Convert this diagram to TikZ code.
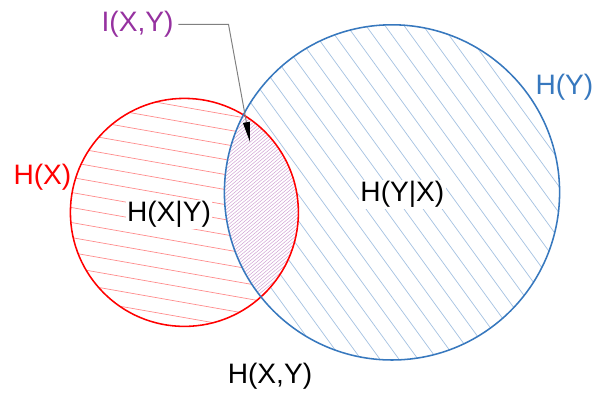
\documentclass[tikz,border=0pt]{standalone}
\usepackage{fontspec}
\setmainfont{Liberation Sans}
\usetikzlibrary{arrows.meta}
\definecolor{hxred}{RGB}{255,0,0}
\definecolor{hyblue}{RGB}{55,120,190}
\definecolor{ixyviolet}{RGB}{150,50,160}

\begin{document}
\begin{tikzpicture}[
  lbl/.style={font=\fontsize{20}{22}\selectfont, anchor=base},
  hatch/.style={line width=0.5pt}]
  \useasboundingbox (0,0) rectangle (14.825,9.85);
  \def\rx{2.85}
  \def\ry{4.19}
  \coordinate (cx) at (4.61,4.54);
  \coordinate (cy) at (9.8,5.04);
  % hatching of H(X)
  \begin{scope}[shift={(cx)}, rotate=-10]
    \clip (0,0) circle (\rx);
    \foreach \k in {-9,...,9}
      \draw[hatch, hxred!45] (-3.5,\k*0.37) -- (3.5,\k*0.37);
  \end{scope}
  % hatching of H(Y)
  \begin{scope}[shift={(cy)}, rotate=-54]
    \clip (0,0) circle (\ry);
    \fill[white] (0,0) circle (\ry);
    \foreach \k in {-12,...,12}
      \draw[hatch, hyblue!45] (-4.5,\k*0.385) -- (4.5,\k*0.385);
  \end{scope}
  % overlap I(X,Y)
  \begin{scope}
    \clip (cx) circle (\rx);
    \clip (cy) circle (\ry);
    \fill[white] (cx) circle (\rx);
    \begin{scope}[shift={(6.55,4.68)}, rotate=40]
      \foreach \k in {-40,...,40}
        \draw[line width=0.35pt, ixyviolet!45] (-3,\k*0.065) -- (3,\k*0.065);
    \end{scope}
  \end{scope}
  % circles
  \draw[hxred, line width=1.1pt] (cx) circle (\rx);
  \draw[hyblue, line width=1.1pt] (cy) circle (\ry);
  % labels
  \node[lbl, hxred] (hx) at (1.06,5.225) {H(X)};
  \node[lbl, hyblue] (hy) at (14.11,7.475) {H(Y)};
  \node[lbl, fill=white, inner sep=1pt] (hxgy) at (4.225,4.31) {H(X|Y)};
  \node[lbl, fill=white, inner sep=1pt] (hygx) at (10.06,4.81) {H(Y|X)};
  \node[lbl] (hjoint) at (6.75,0.2675) {H(X,Y)};
  \node[lbl, ixyviolet] (ixy) at (3.44,9.06) {I(X,Y)};
  % pointer to the overlap
  \coordinate (tip) at (6.25,6.3);
  \draw[gray, line width=0.7pt, -{Triangle[length=0.5cm, width=0.17cm, color=black]}]
    (ixy.east) -- ++(1.25,0) -- (tip);
\end{tikzpicture}
\end{document}
